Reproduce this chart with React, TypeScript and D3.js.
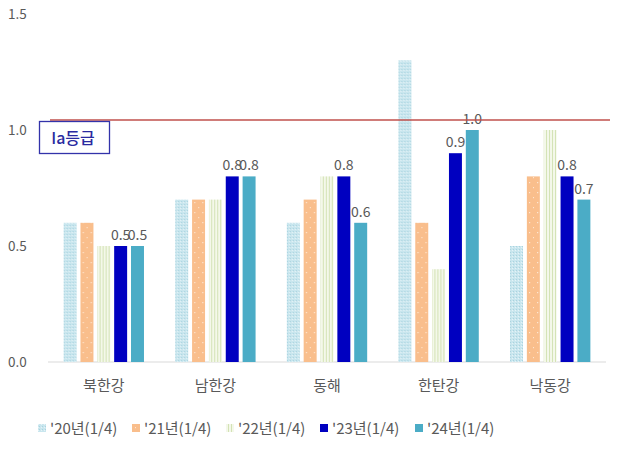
import React from "react";
import * as d3 from "d3";

const categories = ["북한강", "남한강", "동해", "한탄강", "낙동강"];
const seriesNames = ["'20년(1/4)", "'21년(1/4)", "'22년(1/4)", "'23년(1/4)", "'24년(1/4)"];
const s20 = [0.6, 0.7, 0.6, 1.3, 0.5];
const s21 = [0.6, 0.7, 0.7, 0.6, 0.8];
const s22 = [0.5, 0.7, 0.8, 0.4, 1.0];
const s23 = [0.5, 0.8, 0.8, 0.9, 0.8];
const s24 = [0.5, 0.8, 0.6, 1.0, 0.7];
const yTicks = [0, 0.5, 1.0, 1.5];
const refValue = 1.043;
const refLabel = "Ia등급";
const labeledSeries = [3, 4];

const seriesValues = [s20, s21, s22, s23, s24];
const fills = ["url(#p20)", "url(#p21)", "url(#p22)", "#0000C0", "#4BACC6"];

export default function App() {
  const W = 620, H = 451;
  const left = 48, right = 606, base = 362, top = 14;
  const y = d3.scaleLinear().domain([0, 1.5]).range([base, top]);
  const x0 = d3.scaleBand().domain(categories).range([left, right]).paddingInner(0.28).paddingOuter(0.14);
  const x1 = d3.scaleBand().domain(seriesNames).range([0, x0.bandwidth()]).paddingInner(0.23);
  const font = "'Malgun Gothic', 'Noto Sans CJK KR', 'Noto Sans', sans-serif";
  const gray = "#595959";
  const legendX = [38, 132, 226, 320, 415];

  return (
    <svg width={W} height={H} style={{ position: "absolute", left: 0, top: 0, background: "#fff" }} fontFamily={font}>
      <defs>
        <pattern id="p20" width="3" height="3" patternUnits="userSpaceOnUse">
          <rect width="3" height="3" fill="#C9E6EE" />
          <rect x="0" y="0" width="1" height="1" fill="#A9D3DF" />
          <rect x="2" y="1" width="1" height="1" fill="#E6F3F7" />
        </pattern>
        <pattern id="p21" width="8" height="10" patternUnits="userSpaceOnUse">
          <rect width="8" height="10" fill="#F9BE8C" />
          <rect x="3" y="2" width="1.2" height="1.2" fill="#FDE6D2" />
          <rect x="7" y="7" width="1.2" height="1.2" fill="#FDE6D2" />
        </pattern>
        <pattern id="p22" width="3" height="3" patternUnits="userSpaceOnUse">
          <rect width="3" height="3" fill="#F4F8EA" />
          <rect x="0" y="0" width="1" height="3" fill="#D3E2B5" />
        </pattern>
      </defs>

      {yTicks.map((t) => (
        <text key={t} x={8} y={y(t) + 5} fontSize={13.5} fill={gray}>{t.toFixed(1)}</text>
      ))}

      <line x1={left} x2={right} y1={base} y2={base} stroke="#D9D9D9" strokeWidth={1} />

      {categories.map((c, ci) => (
        <g key={c} transform={`translate(${x0(c)},0)`}>
          {seriesValues.map((vals, si) => {
            const v = vals[ci];
            const bx = x1(seriesNames[si])!;
            return (
              <g key={si}>
                <rect x={bx} y={y(v)} width={x1.bandwidth()} height={base - y(v)} fill={fills[si]} />
                {labeledSeries.includes(si) && (
                  <text x={bx + x1.bandwidth() / 2} y={y(v) - 6} fontSize={14} fill={gray} textAnchor="middle">
                    {v.toFixed(1)}
                  </text>
                )}
              </g>
            );
          })}
          <text x={x0.bandwidth() / 2} y={391} fontSize={15} fill={gray} textAnchor="middle">{c}</text>
        </g>
      ))}

      <line x1={50} x2={610} y1={y(refValue)} y2={y(refValue)} stroke="#C0504D" strokeWidth={1.5} />
      <rect x={39.5} y={121.5} width={70} height={32} fill="#fff" stroke="#3333AA" strokeWidth={1.3} />
      <text x={73} y={144} fontSize={16} fontWeight={500} fill="#2A2AA0" textAnchor="middle">{refLabel}</text>

      {seriesNames.map((s, i) => (
        <g key={s}>
          <rect x={legendX[i]} y={424} width={8} height={8} fill={fills[i]} />
          <text x={legendX[i] + 12} y={434} fontSize={15} fill={gray}>{s}</text>
        </g>
      ))}
    </svg>
  );
}
